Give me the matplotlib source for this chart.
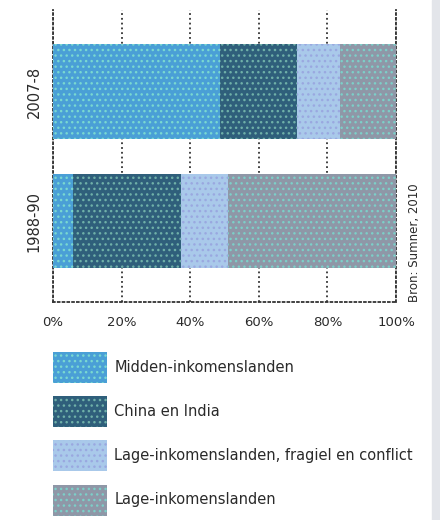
import matplotlib.pyplot as plt
import matplotlib.patches as mpatches

plt.rcParams['font.family'] = ['DejaVu Sans']
plt.rcParams['hatch.linewidth'] = 1.0

periods = ['1988-90', '2007-8']
groups = ['Midden-inkomenslanden', 'China en India',
          'Lage-inkomenslanden, fragiel en conflict', 'Lage-inkomenslanden']
shares = {
    'Midden-inkomenslanden': [5.8, 48.7],
    'China en India': [31.5, 22.4],
    'Lage-inkomenslanden, fragiel en conflict': [13.7, 12.6],
    'Lage-inkomenslanden': [49.0, 16.3],
}
colors = ['#4a9fd6', '#2f5f7b', '#a9c9ea', '#8f97a7']
dots = ['#79d8d0', '#6fb0a8', '#9aa8e0', '#7ccfc8']

fig = plt.figure(figsize=(4.4, 5.2), dpi=100)
fig.patches.append(mpatches.Rectangle((432 / 440, 0), 8 / 440, 1, transform=fig.transFigure,
                                      color='#e3e5ea', zorder=0))
ax = fig.add_axes([53 / 440, 218 / 520, 343 / 440, 292 / 520])

left = [0, 0]
bars = []
for g, c, d in zip(groups, colors, dots):
    b = ax.barh(range(len(periods)), shares[g], left=left, height=0.73,
                color=c, edgecolor=d, linewidth=0, hatch='...', label=g, zorder=3)
    bars.append(b)
    left = [l + v for l, v in zip(left, shares[g])]

ax.set_xlim(0, 100)
ax.set_ylim(-0.625, 1.63)
ax.set_xticks(range(0, 101, 20))
ax.set_xticklabels([f'{t}%' for t in range(0, 101, 20)], fontsize=9.5, color='#2a2a2a')
ax.set_yticks(range(len(periods)))
ax.set_yticklabels(periods, rotation=90, va='center', fontsize=10.5, color='#2a2a2a')
ax.tick_params(length=0, pad=10)
ax.tick_params(axis='y', pad=8)
ax.set_axisbelow(True)
ax.grid(axis='x', linestyle=':', color='#333333', linewidth=1.3)
for s in ['left', 'right', 'bottom']:
    ax.spines[s].set_linestyle(':')
    ax.spines[s].set_linewidth(1.3)
    ax.spines[s].set_color('#333333')
ax.spines['top'].set_visible(False)

ax.text(1.055, 0.0, 'Bron: Sumner, 2010', transform=ax.transAxes, rotation=90,
        ha='center', va='bottom', fontsize=8.5, color='#2a2a2a')

leg = fig.legend(handles=bars, labels=groups, loc='upper left',
                 bbox_to_anchor=(53 / 440, (520 - 352) / 520), frameon=False,
                 fontsize=10.5, handlelength=3.7, handleheight=2.9, labelspacing=0.9,
                 handletextpad=0.5, borderpad=0, borderaxespad=0)
for t in leg.get_texts():
    t.set_color('#2a2a2a')

fig.savefig('out.png', dpi=100)
